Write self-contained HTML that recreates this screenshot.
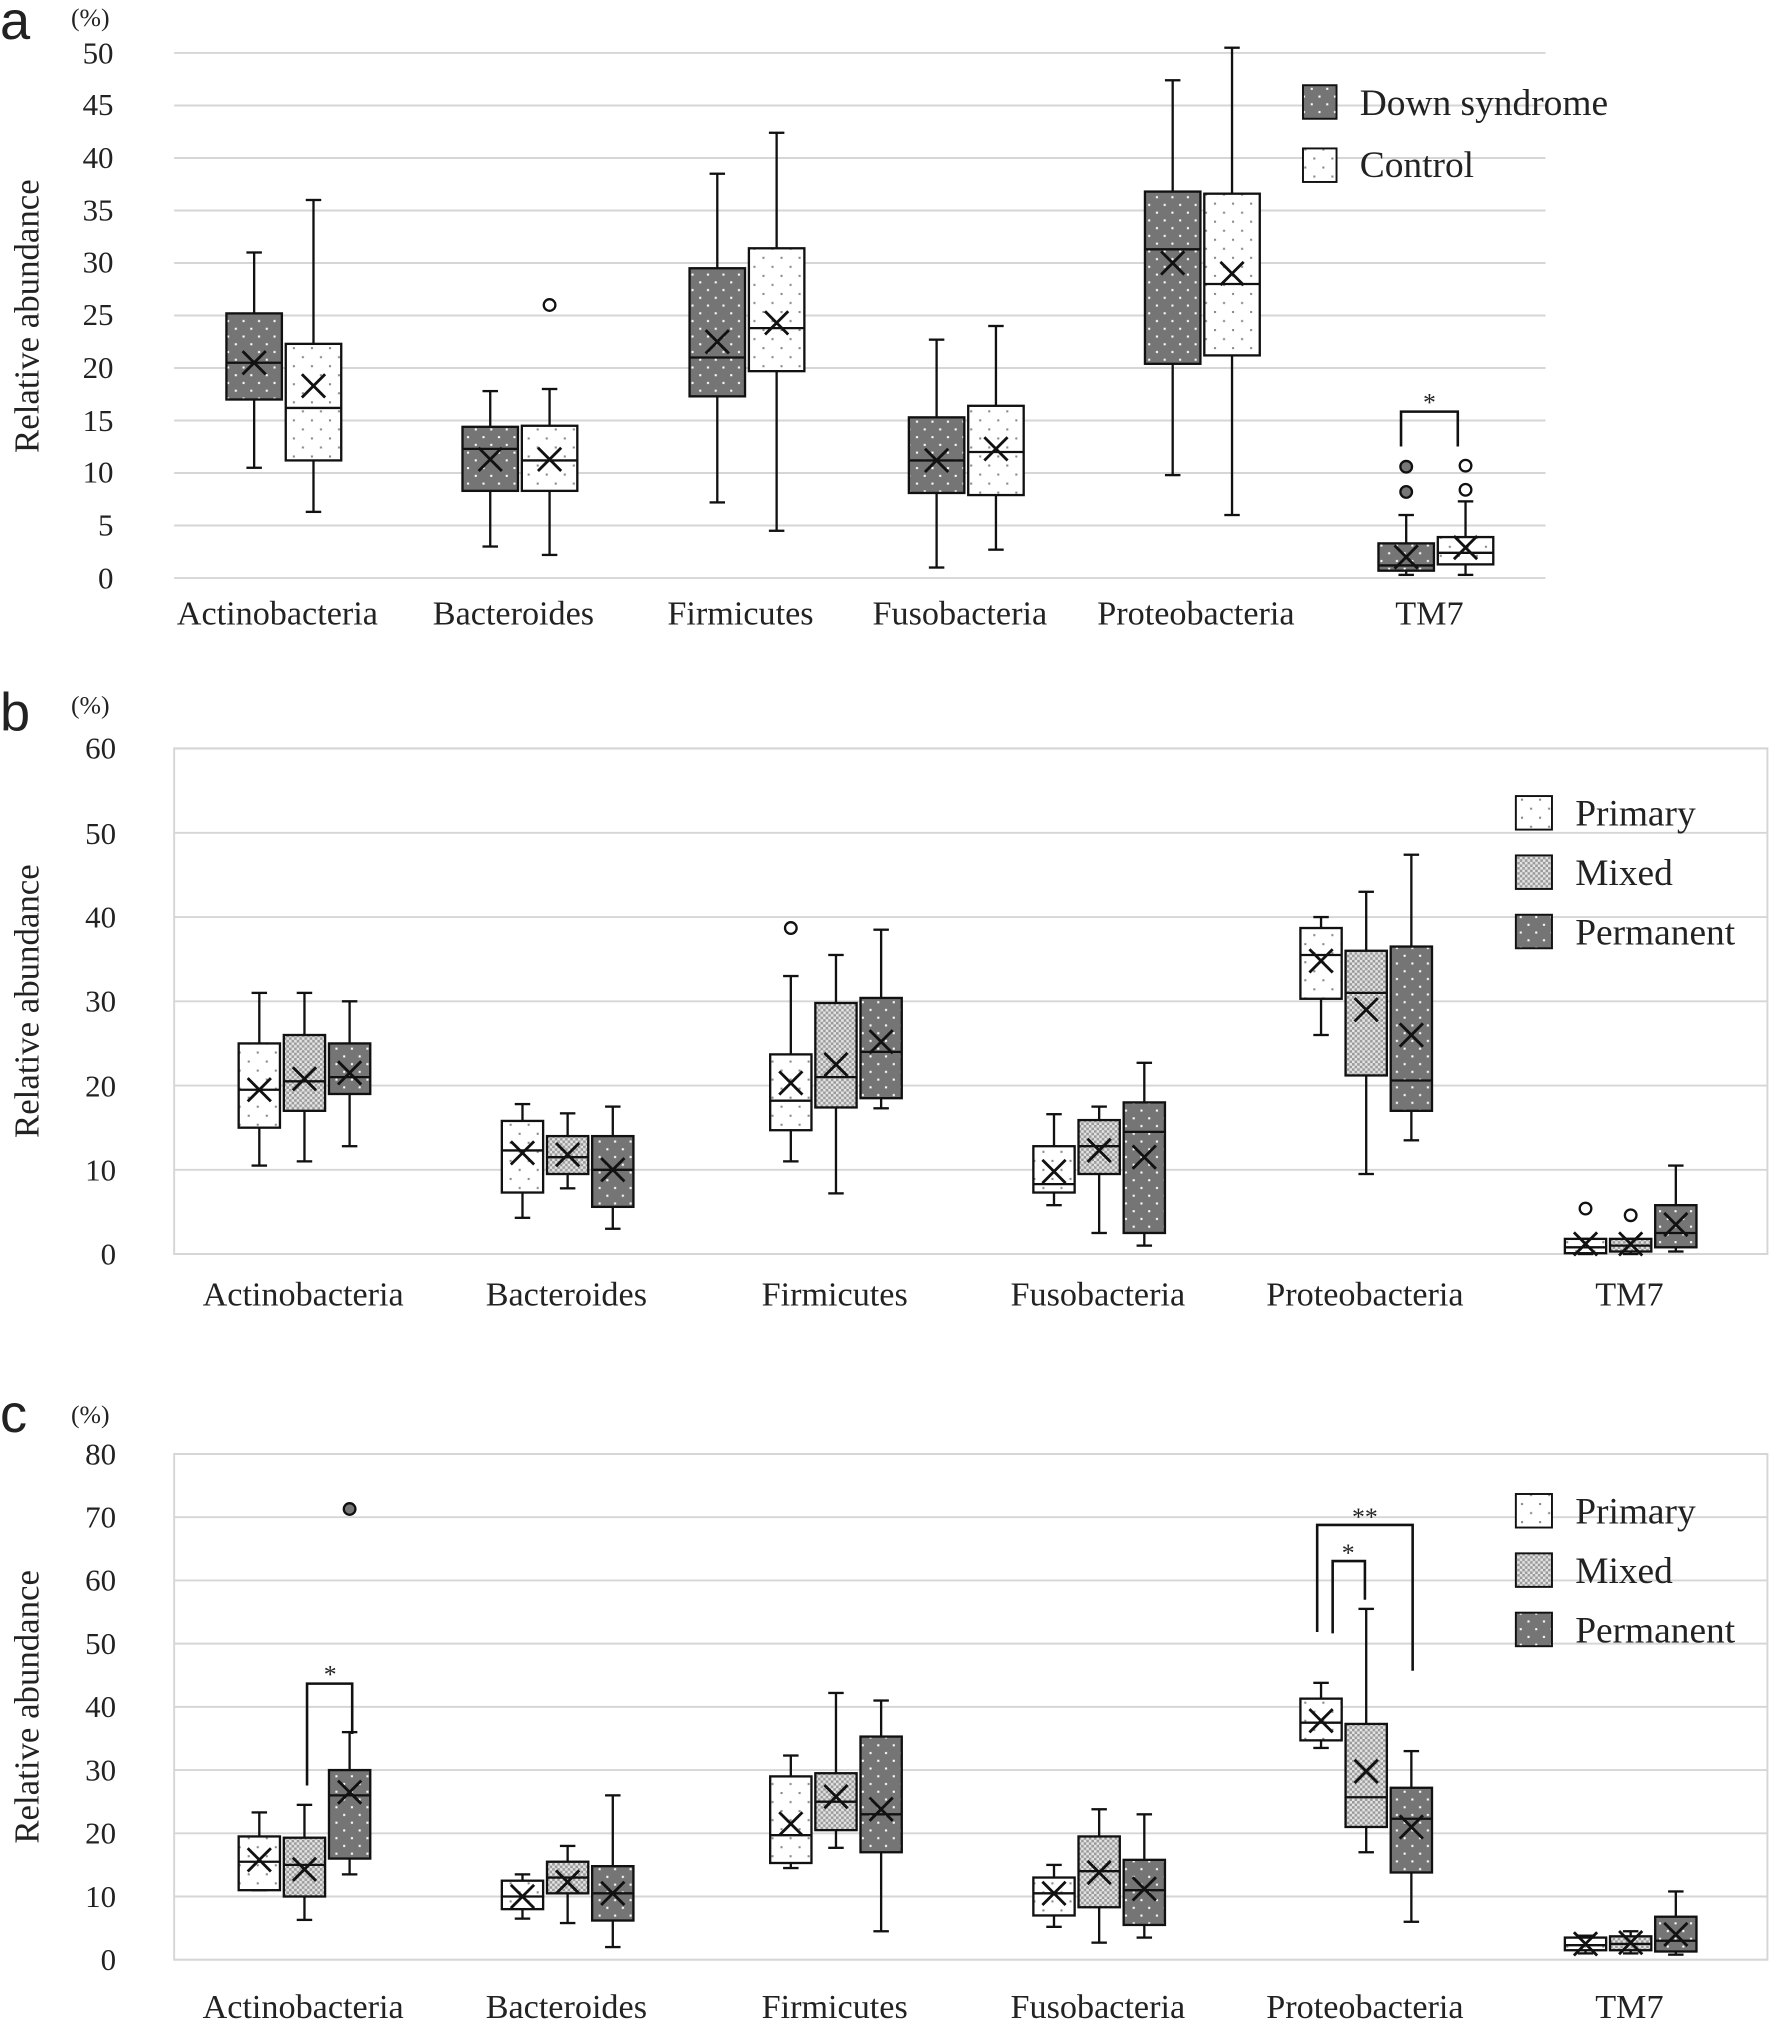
<!DOCTYPE html>
<html><head><meta charset="utf-8"><style>
html,body{margin:0;padding:0;background:#fff}
svg{display:block}
text{font-family:"Liberation Serif",serif;fill:#222}
.t{font-size:24px}
.x{font-size:26.5px}
.y{font-size:27px}
.l{font-size:29px}
.p{font-family:"Liberation Sans",sans-serif;font-size:42px}
</style></head><body>
<svg id="s" width="1770" height="2023" viewBox="0 0 1372 1568" xmlns="http://www.w3.org/2000/svg">
<defs>
<pattern id="dk" width="12" height="12" patternUnits="userSpaceOnUse"><rect width="12" height="12" fill="#757575"/><rect x="2" y="2" width="1.6" height="1.6" fill="#fff"/><rect x="8" y="8" width="1.6" height="1.6" fill="#fff"/></pattern>
<pattern id="wt" width="14" height="14" patternUnits="userSpaceOnUse"><rect width="14" height="14" fill="#fff"/><rect x="3" y="3" width="1.6" height="1.6" fill="#888"/><rect x="10" y="10" width="1.6" height="1.6" fill="#888"/></pattern>
<pattern id="mx" width="4" height="4" patternUnits="userSpaceOnUse"><rect width="4" height="4" fill="#e4e4e4"/><rect width="2" height="2" fill="#9a9a9a"/><rect x="2" y="2" width="2" height="2" fill="#9a9a9a"/></pattern>
</defs>
<g id="grid"></g>
<text class="p" x="0" y="30">a</text>
<text class="p" x="0" y="566">b</text>
<text class="p" x="0" y="1110">c</text>
<text class="t" x="55" y="20" style="font-size:20px">(%)</text>
<text class="t" x="55" y="553" style="font-size:20px">(%)</text>
<text class="t" x="55" y="1103" style="font-size:20px">(%)</text>
<text class="y" transform="translate(30,245) rotate(-90)" text-anchor="middle">Relative abundance</text>
<text class="y" transform="translate(30,776) rotate(-90)" text-anchor="middle">Relative abundance</text>
<text class="y" transform="translate(30,1323) rotate(-90)" text-anchor="middle">Relative abundance</text>
<g class="t" text-anchor="end">
<text x="88" y="456">0</text><text x="88" y="415">5</text><text x="88" y="374">10</text><text x="88" y="334">15</text><text x="88" y="293">20</text><text x="88" y="252">25</text><text x="88" y="211">30</text><text x="88" y="171">35</text><text x="88" y="130">40</text><text x="88" y="89">45</text><text x="88" y="49">50</text>
</g>
<g class="t" text-anchor="end">
<text x="90" y="980">0</text><text x="90" y="915">10</text><text x="90" y="850">20</text><text x="90" y="784">30</text><text x="90" y="719">40</text><text x="90" y="654">50</text><text x="90" y="588">60</text>
</g>
<g class="t" text-anchor="end">
<text x="90" y="1527">0</text><text x="90" y="1478">10</text><text x="90" y="1429">20</text><text x="90" y="1380">30</text><text x="90" y="1331">40</text><text x="90" y="1282">50</text><text x="90" y="1233">60</text><text x="90" y="1184">70</text><text x="90" y="1135">80</text>
</g>
<g class="x" text-anchor="middle">
<text x="215" y="484">Actinobacteria</text><text x="398" y="484">Bacteroides</text><text x="574" y="484">Firmicutes</text><text x="744" y="484">Fusobacteria</text><text x="927" y="484">Proteobacteria</text><text x="1108" y="484">TM7</text>
<text x="235" y="1012">Actinobacteria</text><text x="439" y="1012">Bacteroides</text><text x="647" y="1012">Firmicutes</text><text x="851" y="1012">Fusobacteria</text><text x="1058" y="1012">Proteobacteria</text><text x="1263" y="1012">TM7</text>
<text x="235" y="1564">Actinobacteria</text><text x="439" y="1564">Bacteroides</text><text x="647" y="1564">Firmicutes</text><text x="851" y="1564">Fusobacteria</text><text x="1058" y="1564">Proteobacteria</text><text x="1263" y="1564">TM7</text>
</g>
<rect x="1010" y="66" width="26" height="26" fill="url(#dk)" stroke="#111" stroke-width="1.5"/>
<rect x="1010" y="115" width="26" height="26" fill="url(#wt)" stroke="#111" stroke-width="1.5"/>
<text class="l" x="1054" y="89">Down syndrome</text><text class="l" x="1054" y="137">Control</text>
<rect x="1175" y="617" width="28" height="26" fill="url(#wt)" stroke="#111" stroke-width="1.5"/>
<rect x="1175" y="663" width="28" height="26" fill="url(#mx)" stroke="#111" stroke-width="1.5"/>
<rect x="1175" y="709" width="28" height="26" fill="url(#dk)" stroke="#111" stroke-width="1.5"/>
<text class="l" x="1221" y="640">Primary</text><text class="l" x="1221" y="686">Mixed</text><text class="l" x="1221" y="732">Permanent</text>
<rect x="1175" y="1158" width="28" height="26" fill="url(#wt)" stroke="#111" stroke-width="1.5"/>
<rect x="1175" y="1204" width="28" height="26" fill="url(#mx)" stroke="#111" stroke-width="1.5"/>
<rect x="1175" y="1250" width="28" height="26" fill="url(#dk)" stroke="#111" stroke-width="1.5"/>
<text class="l" x="1221" y="1181">Primary</text><text class="l" x="1221" y="1227">Mixed</text><text class="l" x="1221" y="1273">Permanent</text>
<g stroke="#111" stroke-width="2" fill="none">
<path d="M1086 346 V319 H1130 V346"/>
<path d="M238 1384 V1305 H273 V1344"/>
<path d="M1021 1265 V1182 H1095 V1295"/>
<path d="M1033 1266 V1210 H1058 V1240"/>
</g>
<g class="t" text-anchor="middle" style="font-size:20px">
<text x="1108" y="318">*</text><text x="256" y="1304">*</text><text x="1058" y="1182">**</text><text x="1045" y="1210">*</text>
</g>
<g id="boxes"></g>
</svg>
<script>
var NS="http://www.w3.org/2000/svg";
function el(p,t,a){var e=document.createElementNS(NS,t);for(var k in a)e.setAttribute(k,a[k]);p.appendChild(e);return e;}
var G=document.getElementById("grid"),B=document.getElementById("boxes");
function grid(y0,pp,step,n,x1){for(var i=1;i<=n;i++){var y=y0-pp*step*i;el(G,"line",{x1:135,x2:x1,y1:y,y2:y,stroke:"#d6d6d6","stroke-width":1.5});}
el(G,"line",{x1:135,x2:x1,y1:y0,y2:y0,stroke:"#d6d6d6","stroke-width":1.5});}
grid(448,8.14,5,10,1198);
grid(972,6.53,10,6,1370); el(G,"rect",{x:135,y:580,width:1235,height:392,fill:"none",stroke:"#d6d6d6","stroke-width":1.5});
grid(1519,4.9,10,8,1370); el(G,"rect",{x:135,y:1127,width:1235,height:392,fill:"none",stroke:"#d6d6d6","stroke-width":1.5});
function box(y0,pp,cx,w,d,fill,outs,ofill){
 var Y=function(v){return y0-pp*v;};
 var lo=d[0],hi=d[1],q1=d[2],q3=d[3],md=d[4],mn=d[5];
 el(B,"line",{x1:cx,x2:cx,y1:Y(lo),y2:Y(hi),stroke:"#111","stroke-width":1.8});
 el(B,"line",{x1:cx-6,x2:cx+6,y1:Y(lo),y2:Y(lo),stroke:"#111","stroke-width":1.8});
 el(B,"line",{x1:cx-6,x2:cx+6,y1:Y(hi),y2:Y(hi),stroke:"#111","stroke-width":1.8});
 el(B,"rect",{x:cx-w/2,y:Y(q3),width:w,height:Y(q1)-Y(q3),fill:fill,stroke:"#111","stroke-width":1.8});
 el(B,"line",{x1:cx-w/2,x2:cx+w/2,y1:Y(md),y2:Y(md),stroke:"#111","stroke-width":1.8});
 var m=Y(mn),s=9;
 el(B,"path",{d:"M"+(cx-s)+" "+(m-s)+"L"+(cx+s)+" "+(m+s)+"M"+(cx+s)+" "+(m-s)+"L"+(cx-s)+" "+(m+s),stroke:"#111","stroke-width":2.2});
 (outs||[]).forEach(function(o){el(B,"circle",{cx:cx,cy:Y(o),r:4.5,fill:ofill||"#fff",stroke:"#111","stroke-width":1.8});});
}
var DK="url(#dk)",WT="url(#wt)",MX="url(#mx)";
var A=[[215,[10.5,31,17,25.2,20.5,20.5],[],[6.3,36,11.2,22.3,16.2,18.3],[]],
[398,[3,17.8,8.3,14.4,12.3,11.3],[],[2.2,18,8.3,14.5,11.2,11.3],[26]],
[574,[7.2,38.5,17.3,29.5,21,22.5],[],[4.5,42.4,19.7,31.4,23.8,24.3],[]],
[744,[1,22.7,8.1,15.3,11.2,11.2],[],[2.7,24,7.9,16.4,12,12.3],[]],
[927,[9.8,47.4,20.4,36.8,31.3,30],[],[6,50.5,21.2,36.6,28,29],[]],
[1108,[0.3,6,0.7,3.3,1.2,2],[8.2,10.6],[0.3,7.3,1.3,3.9,2.4,2.9],[8.4,10.7]]];
A.forEach(function(c){box(448,8.14,c[0]-18,43,c[1],DK,c[2],"#777");box(448,8.14,c[0]+28,43,c[3],WT,c[4],"#fff");});
var Bd=[[235,[10.5,31,15,25,19.5,19.5],[],[11,31,17,26,20.5,20.8],[],[12.8,30,19,25,21,21.5],[]],
[439,[4.3,17.8,7.3,15.8,12.3,12],[],[7.8,16.7,9.5,14,11.5,11.8],[],[3,17.5,5.6,14,10,10],[]],
[647,[11,33,14.7,23.7,18.2,20.3],[38.7],[7.2,35.5,17.4,29.8,21,22.5],[],[17.3,38.5,18.5,30.4,24,25.2],[]],
[851,[5.8,16.6,7.3,12.8,8.3,9.8],[],[2.5,17.5,9.5,15.9,12.8,12.3],[],[1,22.7,2.5,18,14.5,11.5],[]],
[1058,[26,40,30.3,38.7,35.5,34.8],[],[9.5,43,21.2,36,31,29],[],[13.5,47.4,17,36.5,20.6,26],[]],
[1263,[0,1.8,0.1,1.8,0.8,1.2],[5.4],[0,1.8,0.3,1.8,1,1.2],[4.6],[0.3,10.5,0.8,5.8,2.5,3.5],[]]];
Bd.forEach(function(c){box(972,6.53,c[0]-34,32,c[1],WT,c[2]);box(972,6.53,c[0]+1,32,c[3],MX,c[4]);box(972,6.53,c[0]+36,32,c[5],DK,c[6],"#777");});
var C=[[235,[11,23.3,11,19.5,15.5,15.8],[],[6.3,24.5,10,19.3,15,14.3],[],[13.5,36,16,30,26,26.5],[71.3]],
[439,[6.5,13.5,8,12.5,10,10],[],[5.8,18,10.5,15.5,13,12.3],[],[2,26,6.2,14.8,10.5,10.5],[]],
[647,[14.5,32.3,15.3,29,19.7,21.5],[],[17.7,42.2,20.5,29.5,25,25.8],[],[4.5,41,17,35.3,23,23.8],[]],
[851,[5.2,15,7,13,10.5,10.5],[],[2.7,23.8,8.3,19.5,14,13.8],[],[3.5,23,5.5,15.8,11,11.2],[]],
[1058,[33.5,43.8,34.7,41.3,37.5,37.8],[],[17,55.5,21,37.3,25.7,29.8],[],[6,33,13.8,27.2,22.3,21],[]],
[1263,[1,3.8,1.5,3.5,2.3,2.5],[],[1,4.5,1.5,3.7,2.5,2.7],[],[0.8,10.8,1.3,6.8,3,4],[]]];
C.forEach(function(c){box(1519,4.9,c[0]-34,32,c[1],WT,c[2]);box(1519,4.9,c[0]+1,32,c[3],MX,c[4]);box(1519,4.9,c[0]+36,32,c[5],DK,c[6],"#777");});
</script>
</body></html>
